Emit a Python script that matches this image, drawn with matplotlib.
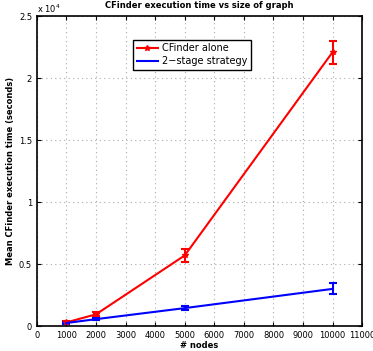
import numpy as np
import matplotlib.pyplot as plt
from matplotlib.lines import Line2D

# datos
nodos = [1000, 2000, 5000, 10000]
cfinder = [300, 950, 5700, 22100]
cfinder_err = [80, 150, 500, 930]
dos_etapas = [250, 560, 1450, 3000]
dos_etapas_err = [50, 80, 180, 450]

fig = plt.figure(figsize=(3.73, 3.51), dpi=100)
ax = fig.add_axes([0.099, 0.071, 0.872, 0.883])

ax.errorbar(nodos, cfinder, yerr=cfinder_err, color='red', lw=1.5, marker='*',
            markersize=4, capsize=3, elinewidth=1.5, capthick=1.5)
ax.errorbar(nodos, dos_etapas, yerr=dos_etapas_err, color='blue', lw=1.5,
            capsize=3, elinewidth=1.5, capthick=1.5)

ax.set_xlim(0, 11000)
ax.set_ylim(0, 25000)
ax.set_xticks(np.arange(0, 11001, 1000))
ax.set_yticks(np.arange(0, 25001, 5000))
ax.set_yticklabels(['0', '0.5', '1', '1.5', '2', '2.5'])
ax.tick_params(labelsize=6, direction='in', length=3, top=True, right=True)
ax.grid(True, linestyle=(0, (1, 3)), color='#aaaaaa', linewidth=0.8)
for s in ax.spines.values():
    s.set_linewidth(1.2)

ax.text(0.0, 1.005, r'x 10$^4$', transform=ax.transAxes, fontsize=6, va='bottom')
ax.set_title('CFinder execution time vs size of graph', fontsize=6, fontweight='bold', pad=6)
ax.set_xlabel('# nodes', fontsize=6, fontweight='bold', labelpad=1)
ax.set_ylabel('Mean CFinder execution time (seconds)', fontsize=6, fontweight='bold', labelpad=3)

handles = [Line2D([], [], color='red', lw=1.5, marker='*', markersize=4),
           Line2D([], [], color='blue', lw=1.5)]
leg = ax.legend(handles, ['CFinder alone', '2\u2212stage strategy'],
                loc='upper left', bbox_to_anchor=(0.28, 0.94), fontsize=7,
                fancybox=False, framealpha=1, edgecolor='black', borderpad=0.4,
                handlelength=2.2, handletextpad=0.4, labelspacing=0.3)
leg.get_frame().set_linewidth(1.0)

plt.savefig('out.png', dpi=100)
